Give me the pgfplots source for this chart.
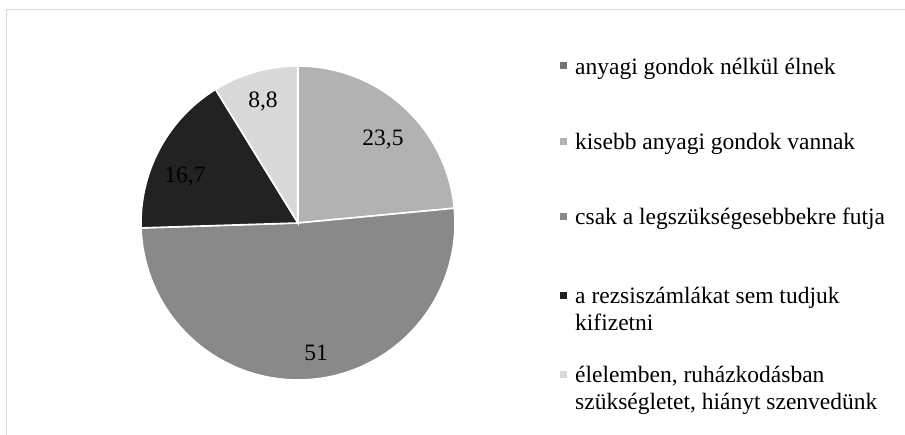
\documentclass[border=0pt]{standalone}
\usepackage{pgfplots}
\pgfplotsset{compat=1.18}
\usepackage{pgfplotstable}
\usepackage{fontspec}
\setmainfont{Liberation Serif}

\definecolor{cA}{HTML}{737373}
\definecolor{cB}{HTML}{B2B2B2}
\definecolor{cC}{HTML}{898989}
\definecolor{cD}{HTML}{222222}
\definecolor{cE}{HTML}{D9D9D9}
\definecolor{frame}{HTML}{D9D9D9}

% share of each answer, in per cent
\pgfplotstableread{
value
0
23.5
51
16.7
8.8
}\piedata

\begin{document}
\begin{tikzpicture}[x=1pt, y=1pt]
\pgfkeys{/pgf/number format/.cd, use comma, assume math mode=true}
\useasboundingbox (0,0) rectangle (905,435);
\draw[frame, line width=1.5pt] (6.5,0) -- (6.5,425.5) -- (905,425.5);

\pgfplotstablegetelem{1}{value}\of\piedata \let\vB\pgfplotsretval
\pgfplotstablegetelem{2}{value}\of\piedata \let\vC\pgfplotsretval
\pgfplotstablegetelem{3}{value}\of\piedata \let\vD\pgfplotsretval
\pgfplotstablegetelem{4}{value}\of\piedata \let\vE\pgfplotsretval
\pgfmathsetmacro\aB{90}
\pgfmathsetmacro\aC{\aB-3.6*\vB}
\pgfmathsetmacro\aD{\aC-3.6*\vC}
\pgfmathsetmacro\aE{\aD-3.6*\vD}
\pgfmathsetmacro\aF{\aE-3.6*\vE}

\begin{axis}[
    at={(298pt,212pt)}, anchor=center,
    width=314pt, height=314pt, scale only axis,
    xmin=-1, xmax=1, ymin=-1, ymax=1,
    hide axis, clip=false,
    every axis plot/.append style={draw=white, line width=1.6pt, samples=90, variable=\t},
    ]
    \addplot[fill=cB, domain=\aC:\aB] ({cos(\t)},{sin(\t)}) -- (axis cs:0,0) -- cycle;
    \addplot[fill=cC, domain=\aD:\aC] ({cos(\t)},{sin(\t)}) -- (axis cs:0,0) -- cycle;
    \addplot[fill=cD, domain=\aE:\aD] ({cos(\t)},{sin(\t)}) -- (axis cs:0,0) -- cycle;
    \addplot[fill=cE, domain=\aF:\aE] ({cos(\t)},{sin(\t)}) -- (axis cs:0,0) -- cycle;

    % data labels
    \begin{scope}[font=\fontsize{23.5}{27}\selectfont]
    \node at (axis cs:0.541,0.529) {\pgfmathprintnumber{\vB}};
    \node at (axis cs:0.115,-0.828) {\pgfmathprintnumber{\vC}};
    \node at (axis cs:-0.720,0.293) {\pgfmathprintnumber{\vD}};
    \node at (axis cs:-0.223,0.771) {\pgfmathprintnumber{\vE}};
    \end{scope}
\end{axis}

% legend
\begin{scope}[font=\fontsize{23.5}{27}\selectfont, every node/.style={anchor=base west, inner sep=0pt}]
    \fill[cA] (560,435-69.5) rectangle +(7,7);
    \node at (575,435-74.3) {anyagi gondok nélkül élnek};
    \fill[cB] (560,435-145) rectangle +(7,7);
    \node at (575,435-150) {kisebb anyagi gondok vannak};
    \fill[cC] (560,435-220) rectangle +(7,7);
    \node at (575,435-225) {csak a legszükségesebbekre futja};
    \fill[cD] (560,435-299) rectangle +(7,7);
    \node at (575,435-304) {a rezsiszámlákat sem tudjuk};
    \node at (575,435-330.7) {kifizetni};
    \fill[cE] (560,435-377.7) rectangle +(7,7);
    \node at (575,435-382.7) {élelemben, ruházkodásban};
    \node at (575,435-409.3) {szükségletet, hiányt szenvedünk};
\end{scope}
\end{tikzpicture}
\end{document}
